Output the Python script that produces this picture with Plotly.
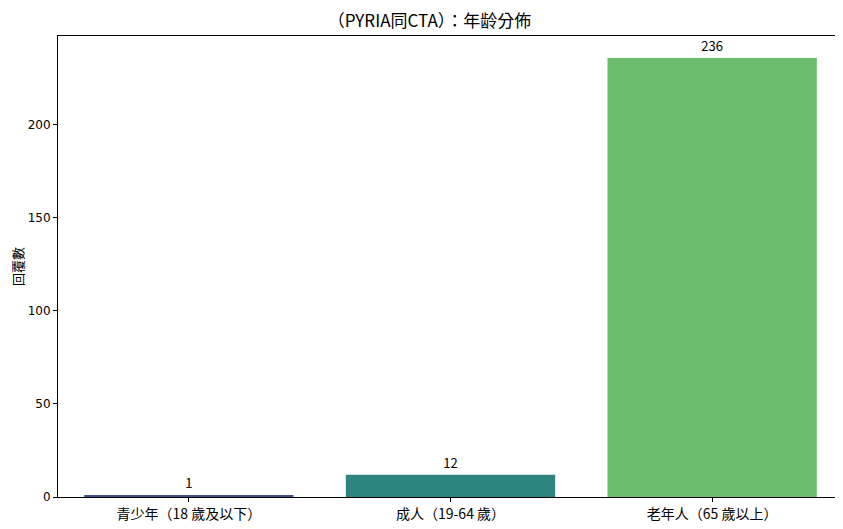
import plotly.graph_objects as go

# 數據
categories = ['青少年（18 歲及以下）', '成人（19-64 歲）', '老年人（65 歲以上）']
counts = [1, 12, 236]
bar_colors = ['#3e5287', '#2e847f', '#6bbd6e']

cjk = 'Noto Sans CJK TC, Noto Sans CJK SC, sans-serif'
num = 'DejaVu Sans, Noto Sans CJK TC, sans-serif'

fig = go.Figure()
fig.add_trace(go.Bar(
    x=categories, y=counts,
    marker=dict(color=bar_colors, line_width=0),
    width=0.8,
    text=[str(c) for c in counts],
    textposition='outside',
    textfont=dict(family=cjk, size=13, color='black'),
    cliponaxis=False,
))

fig.update_layout(
    width=843, height=529,
    margin=dict(l=50, r=8, t=28, b=40, autoexpand=False),
    paper_bgcolor='white', plot_bgcolor='white',
    title=dict(text='（PYRIA同CTA）：年龄分佈', xref='container', x=0.50,
               xanchor='center', y=0.975, yanchor='middle',
               font=dict(family=cjk, size=17, color='black')),
    showlegend=False,
    font=dict(family=cjk, size=13, color='black'),
)
fig.update_xaxes(
    range=[-0.5, 2.5], showline=True, mirror=True, linecolor='black', linewidth=1,
    ticks='outside', ticklen=4, tickcolor='black', showgrid=False, automargin=False,
    tickfont=dict(family=cjk, size=14),
)
fig.update_yaxes(
    range=[0, 247.8], showline=True, mirror=True, linecolor='black', linewidth=1,
    ticks='outside', ticklen=4, tickcolor='black', showgrid=False, zeroline=False,
    automargin=False,
    tickvals=[0, 50, 100, 150, 200],
    tickfont=dict(family=num, size=12),
    title=dict(text='回覆數', font=dict(family=cjk, size=13), standoff=4),
)

fig.write_html('out.html')
